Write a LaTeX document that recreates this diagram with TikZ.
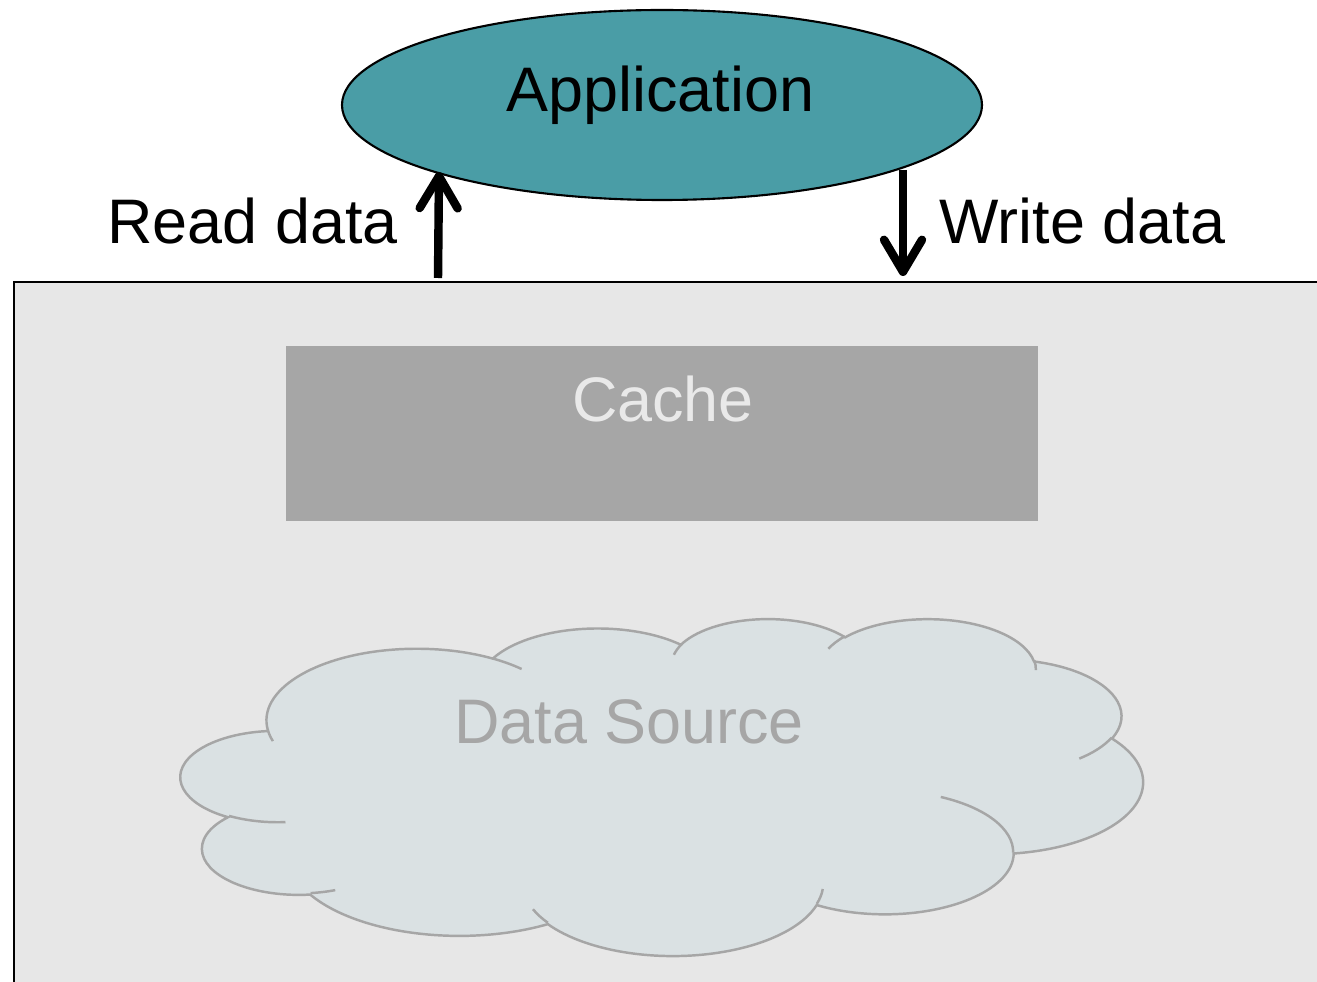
\documentclass[tikz,border=0pt]{standalone}
\usepackage{fontspec}
\setmainfont{Liberation Sans}
\usetikzlibrary{arrows.meta, shapes.geometric}

\definecolor{appteal}{HTML}{4A9DA6}
\definecolor{boxgray}{HTML}{E7E7E7}
\definecolor{cachegray}{HTML}{A6A6A6}
\definecolor{cachetext}{HTML}{E9E9E9}
\definecolor{cloudfill}{HTML}{DAE1E3}

\tikzset{
  bigtext/.style={font=\fontsize{17.9pt}{21pt}\selectfont, inner sep=0pt, anchor=base},
  flow/.style={line width=2.4pt, -{Straight Barb[length=3.2mm, width=3.8mm, line join=round, line cap=round]}},
  cloudline/.style={draw=cachegray, line width=0.7pt},
}

% ray angles of the cloud arcs turned into ellipse parameters
\newcommand\cloudangles[4]{%
  \pgfmathsetmacro\ta{atan2((#1)*sin(#3),(#2)*cos(#3))}%
  \pgfmathsetmacro\tb{atan2((#1)*sin((#3)+(#4)),(#2)*cos((#3)+(#4)))}%
  \pgfmathsetmacro\tb{(\tb)+360*round(((\ta)+(#4)-(\tb))/360)}%
}
\gdef\cloudpath{}

\begin{document}
\begin{tikzpicture}
\useasboundingbox (0,0) rectangle (13.17,-9.82);
\clip (0,0) rectangle (13.17,-9.82);

\draw[fill=boxgray, line width=0.8pt] (0.14,-2.82) rectangle (13.6,-10.2);

\node[fill=cachegray, inner sep=0pt, minimum width=7.52cm, minimum height=1.75cm] (cache) at (6.62,-4.335) {};
\node[bigtext, text=cachetext] (cachelabel) at (6.63,-4.21) {Cache};

\begin{scope}[shift={(1.81,-6.18)}, x=0.022269cm, y=-0.0078009cm]
  \foreach \w/\h/\s/\d in {67.53/91.90/-190.4875/123.7805, 53.33/72.67/-144.1024/89.9452,
      43.65/59.45/-145.8079/99.7230, 48.57/65.95/-130.9861/117.2417,
      53.33/72.73/-78.7089/109.0269, 67.75/92.20/-46.2673/130.2690,
      57.85/78.67/0.6250/114.0333, 67.52/92.15/22.4516/115.1726,
      77.20/105.43/66.2426/75.7110, 43.60/59.18/-274.9421/146.7356,
      43.45/59.45/-246.8285/152.5189}{
    \cloudangles{\w}{\h}{\s}{\d}
    \xdef\cloudpath{\cloudpath arc[start angle=\ta, end angle=\tb, x radius=\w, y radius=\h]}
  }
  \filldraw[cloudline, fill=cloudfill] (39.00,143.70) \cloudpath -- cycle;
  \foreach \px/\py/\w/\h/\s/\d in {46.93/261.77/43.45/59.45/86.7420/26.4295,
      69.28/348.99/43.60/59.18/73.6105/11.4475, 164.78/390.90/67.52/92.15/137.6242/14.0811,
      288.27/347.51/67.52/92.15/6.4533/15.9984, 341.29/229.54/57.85/78.67/-70.2924/70.9174,
      417.98/153.54/53.33/72.73/30.3180/27.7515, 383.24/54.26/48.57/65.95/-13.7443/14.8589,
      290.78/39.52/48.57/65.95/-149.1815/18.1954, 221.41/47.20/43.65/59.45/-163.4943/17.6864,
      140.00/51.92/67.53/91.90/-66.7070/12.3194, 41.27/157.89/67.53/91.90/157.6544/11.8582}{
    \cloudangles{\w}{\h}{\s}{\d}
    \draw[cloudline] (\px,\py) arc[start angle=\ta, end angle=\tb, x radius=\w, y radius=\h];
  }
\end{scope}
\node[bigtext, text=cachegray] (sourcelabel) at (6.29,-7.43) {Data Source};

\node[ellipse, draw, fill=appteal, line width=0.6pt, inner sep=0pt,
  minimum width=6.4cm, minimum height=1.9cm] (app) at (6.62,-1.05) {};
\node[bigtext] (applabel) at (6.605,-1.12) {Application};

\node[bigtext] (readlabel) at (2.525,-2.44) {Read data};
\node[bigtext] (writelabel) at (10.825,-2.44) {Write data};

\coordinate (readfoot) at (4.38,-2.78);
\coordinate (readtop) at (4.39,-1.72);
\coordinate (writetop) at (9.03,-1.70);
\coordinate (writefoot) at (9.03,-2.76);
\draw[flow] (readfoot) -- (readtop);
\draw[flow] (writetop) -- (writefoot);
\end{tikzpicture}
\end{document}
